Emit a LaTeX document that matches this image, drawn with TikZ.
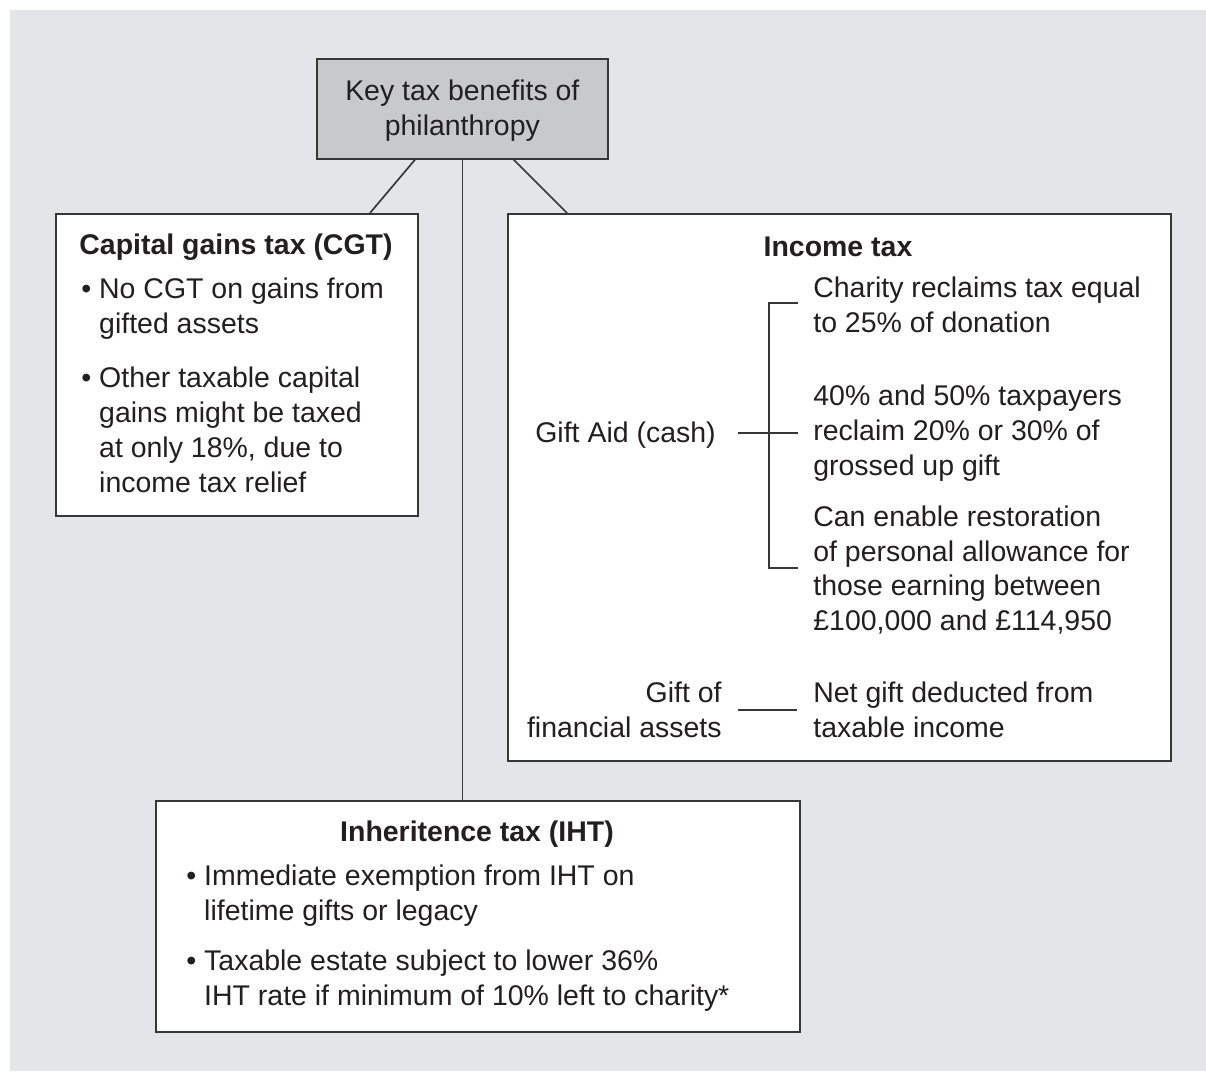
\documentclass[tikz,border=0pt]{standalone}
\usepackage{fontspec}
\setmainfont{Liberation Sans}
\usetikzlibrary{calc}
\definecolor{bgcol}{RGB}{227,229,232}
\definecolor{titlecol}{RGB}{200,201,203}
\definecolor{inkcol}{RGB}{35,31,32}
\definecolor{rulecol}{RGB}{55,55,55}
\def\pu{0.02cm}
\tikzset{
  every node/.style={font=\fontsize{16.2}{19.9}\selectfont, text=inkcol},
  panel/.style={draw=rulecol, line width=0.95pt, fill=white, anchor=north west, inner sep=0pt},
  head/.style={font=\fontsize{16.2}{19.9}\selectfont\bfseries, inner sep=0pt},
  txt/.style={align=left, anchor=west, inner sep=0pt},
  link/.style={draw=rulecol, line width=0.95pt}
}
\begin{document}
\begin{tikzpicture}[x=\pu, y=-\pu]
% background
\fill[white] (0,0) rectangle (1206,1071);
\fill[bgcol] (10,10) rectangle (1206,1071);
\useasboundingbox (0,0) rectangle (1206,1071);

% boxes
\node[panel, fill=titlecol, minimum width=291*\pu, minimum height=100*\pu] (title) at (316,58) {};
\node[panel, minimum width=362*\pu, minimum height=302*\pu] (cgt) at (55,213) {};
\node[panel, minimum width=663*\pu, minimum height=547*\pu] (income) at (507,213) {};
\node[panel, minimum width=644*\pu, minimum height=231*\pu] (iht) at (155,800) {};

% links
\draw[link] ($(title.south west)+(99,0)$) -- ($(cgt.north west)+(315,0)$);
\draw[link] ($(title.south east)+(-95,0)$) -- ($(income.north west)+(60,0)$);
\draw[link] (title.south) -- (title.south |- iht.north);

% title
\node[align=center, inner sep=0pt] (titletext) at ($(title.center)+(0,2)$) {Key tax benefits of\\philanthropy};

% capital gains
\node[head] (cgthead) at (236,247) {Capital gains tax (CGT)};
\node[txt] (cgtA) at (81,309) {\textbullet\ No CGT on gains from\\\phantom{\textbullet\ }gifted assets};
\node[txt] (cgtB) at (81,430) {\textbullet\ Other taxable capital\\\phantom{\textbullet\ }gains might be taxed\\\phantom{\textbullet\ }at only 18\%, due to\\\phantom{\textbullet\ }income tax relief};

% income tax
\node[head] (inchead) at (838,247) {Income tax};
\node[txt] (gaA) at (813,305) {Charity reclaims tax equal\\to 25\% of donation};
\node[txt] (gaB) at (813,433) {40\% and 50\% taxpayers\\reclaim 20\% or 30\% of\\grossed up gift};
\node[txt] (gaC) at (813,570) {Can enable restoration\\of personal allowance for\\those earning between\\£100,000 and £114,950};
\node[txt, anchor=east] (giftaid) at (716,435) {Gift Aid (cash)};
\node[txt] (netgift) at (813,710) {Net gift deducted from\\taxable income};
\node[align=right, anchor=east, inner sep=0pt] (finassets) at (722,710) {Gift of\\financial assets};

\draw[link] ($(gaA.west)+(-15,-2)$) -- ++(-29,0) |- ($(gaC.west)+(-15,-2)$);
\draw[link] ($(giftaid.east)+(22,-2)$) -- ($(gaB.west)+(-15,0)$);
\draw[link] ($(finassets.east)+(16,0)$) -- ($(netgift.west)+(-16,0)$);

% inheritance
\node[head] (ihthead) at (477,834) {Inheritence tax (IHT)};
\node[txt] (ihtA) at (186,896) {\textbullet\ Immediate exemption from IHT on\\\phantom{\textbullet\ }lifetime gifts or legacy};
\node[txt] (ihtB) at (186,981) {\textbullet\ Taxable estate subject to lower 36\%\\\phantom{\textbullet\ }IHT rate if minimum of 10\% left to charity*};
\end{tikzpicture}
\end{document}
